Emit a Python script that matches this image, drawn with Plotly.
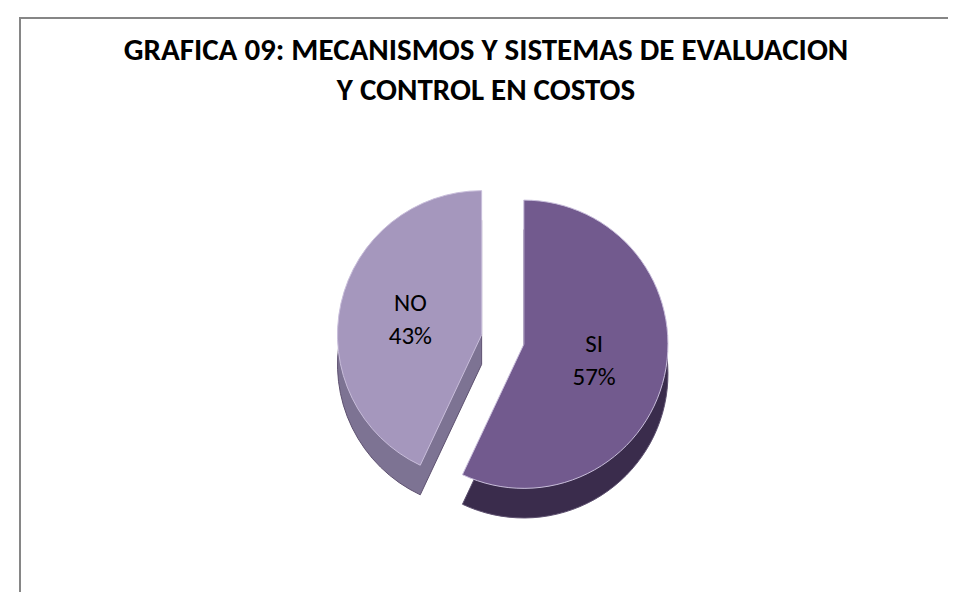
import plotly.graph_objects as go

labels = ["SI", "NO"]
values = [57, 43]
colors = ["#725A8E", "#A597BD"]
side_colors = ["#3A2C4C", "#7D7393"]
title_lines = ["GRAFICA 09: MECANISMOS Y SISTEMAS DE EVALUACION", "Y CONTROL EN COSTOS"]

pie_common = dict(
    labels=labels,
    values=values,
    sort=False,
    direction="clockwise",
    rotation=0,
    pull=[0.15, 0.15],
    showlegend=False,
)

fig = go.Figure()
# darker copy underneath, shifted down, to suggest the depth of the 3D disk
fig.add_trace(go.Pie(
    **pie_common,
    marker=dict(colors=side_colors, line=dict(color="#5E5170", width=1)),
    textinfo="none",
    hoverinfo="skip",
    domain=dict(x=[0.1, 0.935], y=[0.11, 0.67]),
))
fig.add_trace(go.Pie(
    **pie_common,
    marker=dict(colors=colors, line=dict(color="#C9BEDB", width=1)),
    textinfo="label+percent",
    texttemplate="%{label}<br>%{percent:.0%}",
    textposition="inside",
    insidetextorientation="horizontal",
    textfont=dict(family="Carlito, Lato, sans-serif", size=25, color="#000000"),
    hoverinfo="label+percent",
    domain=dict(x=[0.1, 0.935], y=[0.16, 0.72]),
))

fig.update_layout(
    width=956,
    height=592,
    paper_bgcolor="#FFFFFF",
    plot_bgcolor="#FFFFFF",
    margin=dict(l=0, r=0, t=0, b=0),
    title=dict(
        text="<br>".join(title_lines),
        x=0.5,
        xanchor="center",
        y=1 - 52 / 592,
        yanchor="top",
        font=dict(family="Carlito, Lato, sans-serif", size=31, color="#000000", weight="bold"),
    ),
    shapes=[dict(
        type="rect", xref="paper", yref="paper",
        x0=12 / 956, x1=1.01, y0=-0.01, y1=1 - 10 / 592,
        line=dict(color="#868686", width=2),
        fillcolor="rgba(0,0,0,0)",
        layer="below",
    )],
)

fig.write_html("out.html")
